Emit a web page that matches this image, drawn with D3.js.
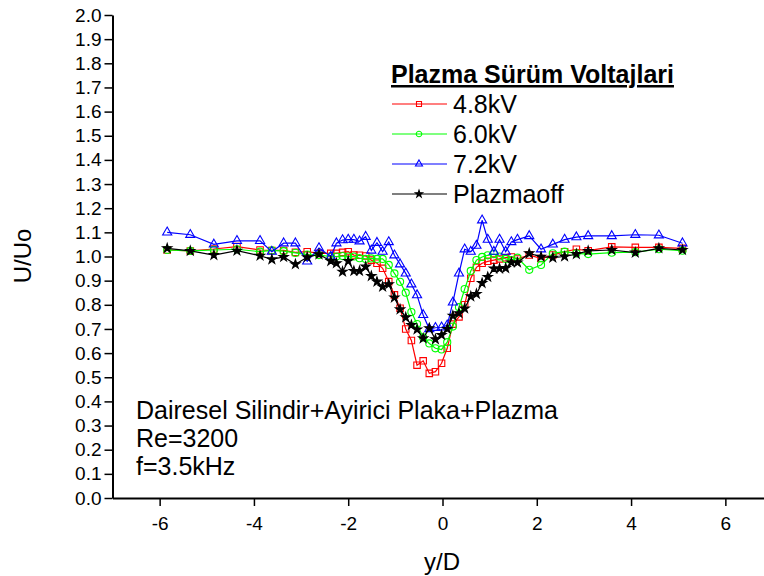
<html>
<head>
<meta charset="utf-8">
<script src="https://d3js.org/d3.v7.min.js"></script>
<style>
  body { margin: 0; background: #fff; }
  text { font-family: Arial, "Liberation Sans", sans-serif; fill: #000; }
</style>
</head>
<body>
<svg id="chart" width="764" height="576"></svg>
<script>
// y/D positions (shared by all series)
const yD = [-5.84, -5.35, -4.85, -4.36, -3.87, -3.62, -3.37, -3.12, -2.87, -2.62,
            -2.37, -2.25, -2.12, -2.00, -1.88, -1.76, -1.63, -1.51, -1.39, -1.27,
            -1.14, -1.02, -0.90, -0.78, -0.66, -0.54, -0.41, -0.28, -0.15, -0.02,
             0.10, 0.22, 0.35, 0.47, 0.60, 0.72, 0.84, 0.96, 1.09, 1.21,
             1.34, 1.46, 1.59, 1.84, 2.09, 2.34, 2.59, 2.84, 3.09, 3.59,
             4.09, 4.59, 5.09];

// U/Uo for each plasma voltage
const v48 = [1.027, 1.023, 1.031, 1.041, 1.027, 1.025, 1.025, 1.017, 1.020, 1.013,
             1.013, 1.013, 1.017, 1.020, 1.006, 1.005, 1.002, 0.985, 0.972, 0.951,
             0.896, 0.841, 0.786, 0.700, 0.652, 0.550, 0.568, 0.516, 0.523, 0.558,
             0.620, 0.720, 0.750, 0.800, 0.910, 0.955, 0.972, 0.980, 0.985, 0.990,
             0.995, 0.998, 0.990, 1.006, 0.992, 1.006, 1.020, 1.030, 1.024, 1.040,
             1.038, 1.038, 1.034];
const v60 = [1.027, 1.023, 1.027, 1.030, 1.020, 1.025, 1.022, 1.015, 1.008, 1.006,
             1.000, 1.000, 1.002, 1.000, 1.000, 0.993, 0.990, 0.992, 0.990, 0.990,
             0.965, 0.930, 0.895, 0.850, 0.770, 0.720, 0.665, 0.640, 0.620, 0.615,
             0.645, 0.710, 0.790, 0.865, 0.940, 0.985, 0.998, 1.005, 1.010, 1.000,
             0.990, 0.985, 0.995, 0.945, 0.965, 1.013, 1.020, 1.013, 1.010, 1.016,
             1.018, 1.030, 1.024];
const v72 = [1.100, 1.090, 1.050, 1.065, 1.065, 1.020, 1.055, 1.055, 0.980, 1.035,
             1.000, 1.055, 1.068, 1.070, 1.070, 1.063, 1.082, 1.025, 1.057, 1.020,
             1.060, 1.005, 0.968, 0.930, 0.885, 0.840, 0.758, 0.700, 0.705, 0.707,
             0.715, 0.810, 0.930, 1.030, 1.020, 1.045, 1.150, 1.070, 1.020, 1.070,
             1.020, 1.060, 1.070, 1.085, 1.030, 1.050, 1.070, 1.080, 1.085, 1.085,
             1.090, 1.088, 1.055];
const vOff = [1.034, 1.023, 1.006, 1.024, 1.003, 0.988, 0.998, 0.968, 0.997, 1.009,
              0.981, 0.972, 0.937, 0.981, 0.940, 0.940, 0.958, 0.919, 0.896, 0.875,
              0.885, 0.830, 0.781, 0.748, 0.716, 0.698, 0.661, 0.703, 0.657, 0.675,
              0.700, 0.755, 0.765, 0.785, 0.835, 0.845, 0.890, 0.915, 0.950, 0.950,
              0.952, 0.975, 0.975, 1.013, 0.999, 0.995, 1.000, 1.010, 1.023, 1.027,
              1.016, 1.034, 1.027];

const seriesNames = ["4.8kV", "6.0kV", "7.2kV", "Plazmaoff"];
const xTicks = [-6, -4, -2, 0, 2, 4, 6];
const xMinor = [-7, -5, -3, -1, 1, 3, 5, 7];
const yTicks = d3.range(0, 21).map(i => i / 10);
const yMinor = d3.range(0, 40).map(i => i / 20 + 0.05).filter(v => v < 2);
const notes = ["Dairesel Silindir+Ayirici Plaka+Plazma", "Re=3200", "f=3.5kHz"];

const svg = d3.select("#chart");
const x = d3.scaleLinear().domain([-7, 7]).range([112.5, 772.5]);
const y = d3.scaleLinear().domain([0, 2]).range([498, 15]);

// axes
const gx = svg.append("g").attr("transform", "translate(0,498)");
gx.call(d3.axisBottom(x).tickValues(xMinor).tickSize(4).tickSizeOuter(0).tickFormat(""));
gx.call(d3.axisBottom(x).tickValues(xTicks).tickSize(8).tickSizeOuter(0).tickFormat(d => String(d)));
gx.selectAll("text").attr("font-size", 19).attr("dy", "1.1em").style("font-family", "Arial, 'Liberation Sans'");

const gy = svg.append("g").attr("transform", "translate(112.5,0)");
gy.call(d3.axisLeft(y).tickValues(yMinor).tickSize(4).tickSizeOuter(0).tickFormat(""));
gy.call(d3.axisLeft(y).tickValues(yTicks).tickSize(8).tickSizeOuter(0).tickFormat(d3.format(".1f")));
gy.selectAll("text").attr("font-size", 19).attr("x", -11).style("font-family", "Arial, 'Liberation Sans'");

svg.selectAll(".domain").attr("stroke-width", 2);
svg.selectAll(".tick line").attr("stroke-width", 1.5);

svg.append("text").attr("x", 442).attr("y", 570).attr("text-anchor", "middle")
  .attr("font-size", 24).text("y/D");
svg.append("text").attr("transform", "translate(31,256) rotate(-90)")
  .attr("text-anchor", "middle").attr("font-size", 24).text("U/Uo");

// series
const series = [
  { name: seriesNames[0], vals: v48, color: "#ff0000", sym: d3.symbolSquare, size: 42, fill: "none" },
  { name: seriesNames[1], vals: v60, color: "#00ff00", sym: d3.symbolCircle, size: 40, fill: "none" },
  { name: seriesNames[2], vals: v72, color: "#0000ff", sym: d3.symbolTriangle, size: 36, fill: "none" },
  { name: seriesNames[3], vals: vOff, color: "#000000", sym: d3.symbolStar, size: 26, fill: "#000000" }
];

const line = d3.line().x(d => x(d[0])).y(d => y(d[1]));

series.forEach(s => {
  const pts = yD.map((d, i) => [d, s.vals[i]]);
  svg.append("path").datum(pts).attr("d", line)
    .attr("fill", "none").attr("stroke", s.color).attr("stroke-width", 1.2);
  svg.append("g").selectAll("path").data(pts).join("path")
    .attr("transform", d => `translate(${x(d[0])},${y(d[1])})`)
    .attr("d", d3.symbol().type(s.sym).size(s.size))
    .attr("fill", s.fill).attr("stroke", s.color).attr("stroke-width", 1.1);
});

// legend
const lg = svg.append("g");
lg.append("text").attr("x", 391).attr("y", 83).attr("font-size", 25)
  .attr("font-weight", "bold").attr("text-decoration", "underline")
  .text("Plazma Sürüm Voltajlari");
series.forEach((s, i) => {
  const ly = 104 + i * 30;
  lg.append("line").attr("x1", 392).attr("x2", 447).attr("y1", ly).attr("y2", ly)
    .attr("stroke", s.color).attr("stroke-width", 1.2);
  lg.append("path").attr("transform", `translate(419,${ly})`)
    .attr("d", d3.symbol().type(s.sym).size(s.size * 0.6))
    .attr("fill", s.fill).attr("stroke", s.color).attr("stroke-width", 1.1);
  lg.append("text").attr("x", 453).attr("y", ly + 9).attr("font-size", 25).text(s.name);
});

// annotation
notes.forEach((t, i) => {
  svg.append("text").attr("x", 136).attr("y", 419 + i * 28).attr("font-size", 25).text(t);
});
</script>
</body>
</html>
